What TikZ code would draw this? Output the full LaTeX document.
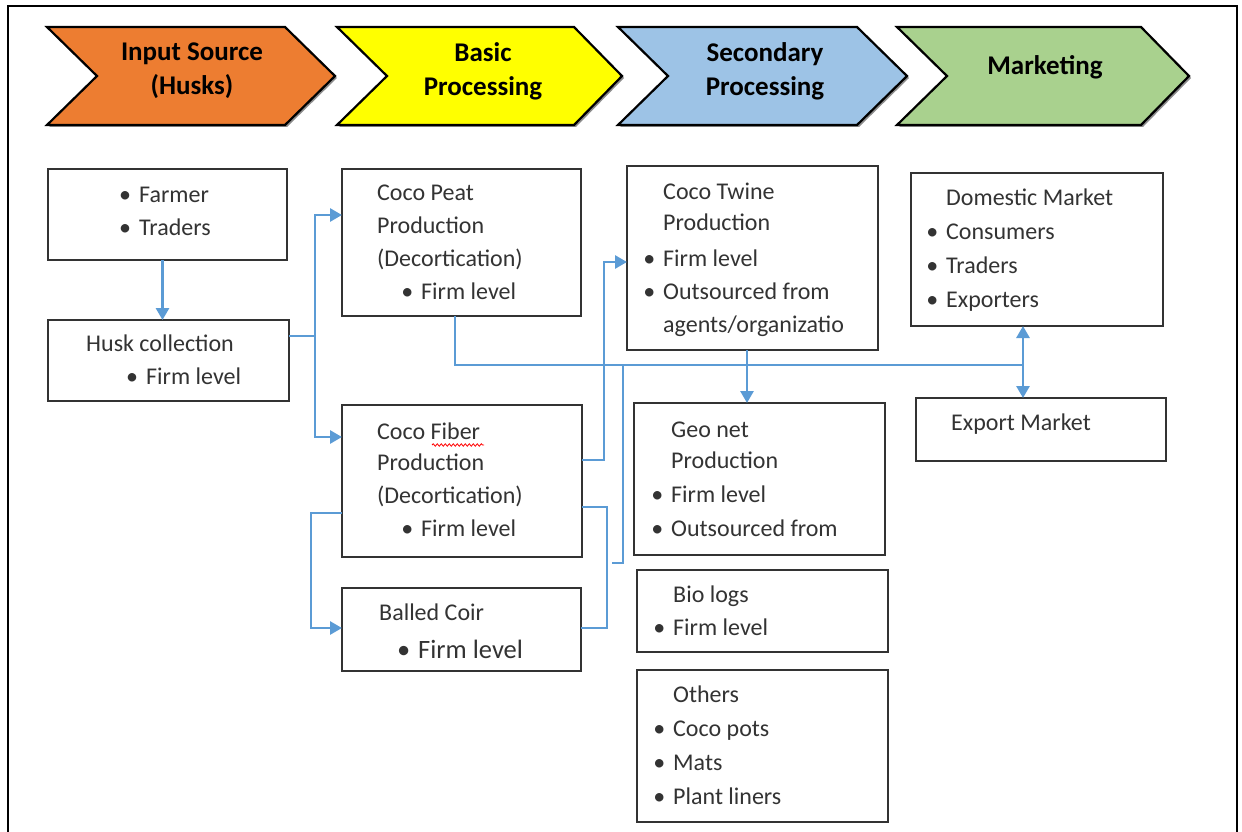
\documentclass[tikz,border=0pt]{standalone}
\usepackage{fontspec}
\setmainfont{Carlito}
\usetikzlibrary{arrows.meta,calc,decorations.pathmorphing}
\definecolor{cline}{HTML}{5B9BD5}
\definecolor{corange}{HTML}{ED7D31}
\definecolor{cyellow}{HTML}{FFFF00}
\definecolor{cblue}{HTML}{9DC3E6}
\definecolor{cgreen}{HTML}{A9D18E}
\definecolor{ctext}{HTML}{333333}
\newcommand\bulitem{\llap{\textbullet\hspace{8pt}}}
\begin{document}
\begin{tikzpicture}[x=1pt,y=-1pt,
  box/.style={draw=black!80, line width=1.8pt, fill=white, anchor=north west, inner sep=0pt, outer sep=0pt},
  conn/.style={draw=cline, line width=2.8pt},
  arr/.style={-{Triangle[length=12pt,width=13pt]}},
  txt/.style={anchor=base west, inner sep=0pt, text=ctext, font=\fontsize{24}{30}\selectfont},
  bigtxt/.style={txt, font=\fontsize{26.5}{32}\selectfont},
  chev/.style={draw=black, line width=2.2pt, line join=miter},
  chshadow/.style={fill=black!45},
  chtext/.style={align=center, font=\bfseries\fontsize{27}{34}\selectfont, inner sep=0pt}
]
\useasboundingbox (0,0) rectangle (1242,832);
% outer frame
\draw[line width=2.5pt] (8,840) -- (8,6) -- (1237,6) -- (1237,840);

% chevrons
\foreach \L/\R/\T/\N/\c in {47/285/335/97/corange, 337/574/622/387/cyellow, 618/857/907/668/cblue, 897/1141/1189/947/cgreen}{
  \fill[chshadow] (\L+2,29) -- (\R+2,29) -- (\T+2,78) -- (\R+2,127) -- (\L+2,127) -- (\N+2,78) -- cycle;
  \draw[chev, fill=\c] (\L,27) -- (\R,27) -- (\T,76) -- (\R,125) -- (\L,125) -- (\N,76) -- cycle;
}
\node[chtext] (h1) at (192,71) {Input Source\\(Husks)};
\node[chtext] (h2) at (483,71) {Basic\\Processing};
\node[chtext] (h3) at (765,71) {Secondary\\Processing};
\node[chtext] (h4) at (1045,67) {Marketing};

% boxes
\node[box, minimum width=239, minimum height=91] (farm) at (48,169) {};
\node[box, minimum width=241, minimum height=81] (husk) at (48,320) {};
\node[box, minimum width=239, minimum height=147] (peat) at (342,169) {};
\node[box, minimum width=240, minimum height=152] (fiber) at (342,405) {};
\node[box, minimum width=239, minimum height=83] (coir) at (342,588) {};
\node[box, minimum width=251, minimum height=184] (twine) at (627,166) {};
\node[box, minimum width=251, minimum height=152] (geo) at (634,403) {};
\node[box, minimum width=251, minimum height=82] (bio) at (637,570) {};
\node[box, minimum width=251, minimum height=152] (oth) at (637,670) {};
\node[box, minimum width=252, minimum height=153] (dom) at (911,173) {};
\node[box, minimum width=250, minimum height=63] (exp) at (916,398) {};

% texts
\node[txt] (t1) at (139,202) {\bulitem Farmer};
\node[txt] (t2) at (139,235) {\bulitem Traders};
\node[txt] (t3) at (86,351) {Husk collection};
\node[txt] (t4) at (146,384) {\bulitem Firm level};

\node[txt] (t5) at (377,200) {Coco Peat};
\node[txt] (t6) at (377,233) {Production};
\node[txt] (t7) at (377,266) {(Decortication)};
\node[txt] (t8) at (421,299) {\bulitem Firm level};

\node[txt] (t9) at (377,439) {Coco Fiber};
\node[txt] (t10) at (377,470) {Production};
\node[txt] (t11) at (377,503) {(Decortication)};
\node[txt] (t12) at (421,536) {\bulitem Firm level};

\node[txt] (t13) at (379,620) {Balled Coir};
\node[bigtxt] (t14) at (418,658) {\bulitem Firm level};

\node[txt] (t15) at (663,199) {Coco Twine};
\node[txt] (t16) at (663,230) {Production};
\node[txt] (t17) at (663,266) {\bulitem Firm level};
\node[txt] (t18) at (663,299) {\bulitem Outsourced from};
\node[txt] (t19) at (663,332) {agents/organizatio};

\node[txt] (t20) at (671,437) {Geo net};
\node[txt] (t21) at (671,468) {Production};
\node[txt] (t22) at (671,502) {\bulitem Firm level};
\node[txt] (t23) at (671,536) {\bulitem Outsourced from};

\node[txt] (t24) at (673,602) {Bio logs};
\node[txt] (t25) at (673,635) {\bulitem Firm level};

\node[txt] (t26) at (673,702) {Others};
\node[txt] (t27) at (673,736) {\bulitem Coco pots};
\node[txt] (t28) at (673,770) {\bulitem Mats};
\node[txt] (t29) at (673,804) {\bulitem Plant liners};

\node[txt] (t30) at (946,205) {Domestic Market};
\node[txt] (t31) at (946,239) {\bulitem Consumers};
\node[txt] (t32) at (946,273) {\bulitem Traders};
\node[txt] (t33) at (946,307) {\bulitem Exporters};

\node[txt] (t34) at (951,430) {Export Market};

% spell-check underline under "Fiber"
\draw[red, line width=0.8pt, decorate, decoration={snake, amplitude=1.2pt, segment length=4pt}] (432,445) -- (484,445);

% connector coordinates
\coordinate (j1) at (315,336);
\coordinate (ypeat) at (0,215);
\coordinate (yfiber) at (0,437);
\coordinate (px) at (455,0);
\coordinate (mk) at (1023,365);
\coordinate (b1) at (604,460);
\coordinate (b2) at (604,262);
\coordinate (b3) at (607,507);
\coordinate (b4) at (607,628);
\coordinate (b5) at (623,365);
\coordinate (b6) at (623,563);
\coordinate (b7) at (612,563);
\coordinate (b8) at (311,513);
\coordinate (b9) at (311,628);
\coordinate (b10) at (747,0);

% connectors
\draw[conn,arr] ([xshift=-5pt]farm.south) -- ([xshift=-5pt]farm.south |- husk.north);
\draw[conn] (husk.east |- j1) -- (j1);
\draw[conn,arr] (j1) |- (peat.west |- ypeat);
\draw[conn,arr] (j1) |- (fiber.west |- yfiber);
\draw[conn] (peat.south -| px) |- (mk);
\draw[conn,arr] (mk) -- (dom.south -| mk);
\draw[conn,arr] (mk) -- (exp.north -| mk);
\draw[conn,arr] (fiber.east |- b1) -- (b1) -- (b2) -- (twine.west |- b2);
\draw[conn] (fiber.east |- b3) -- (b3) -- (b4) -- (coir.east |- b4);
\draw[conn] (b5) -- (b6) -- (b7);
\draw[conn,arr] (fiber.west |- b8) -- (b8) -- (b9) -- (coir.west |- b9);
\draw[conn,arr] (twine.south -| b10) -- (geo.north -| b10);
\end{tikzpicture}
\end{document}
